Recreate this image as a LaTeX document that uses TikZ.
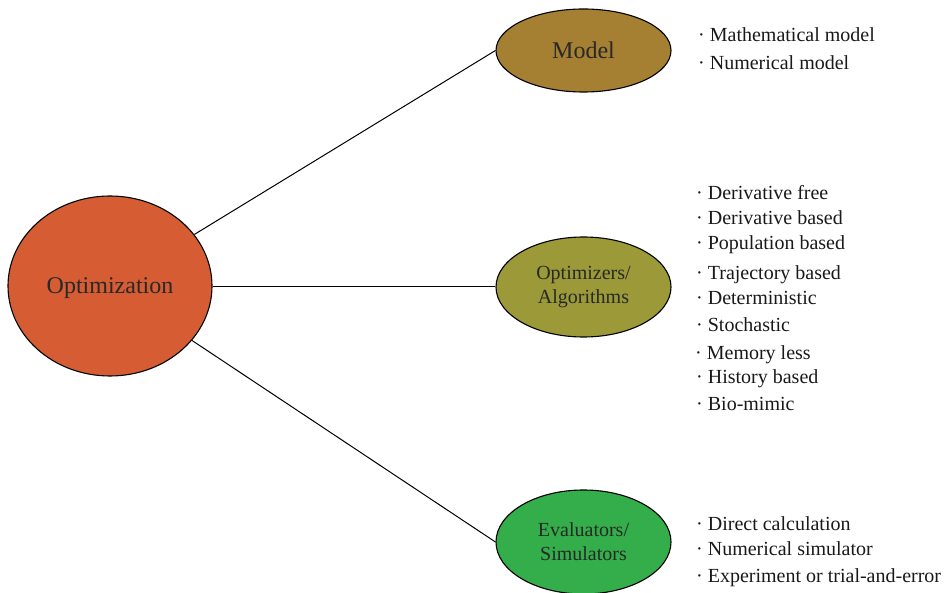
\documentclass[tikz,border=0pt]{standalone}
\usepackage{fontspec}
\setmainfont{Liberation Serif}
\usetikzlibrary{shapes.geometric}
\definecolor{cOpt}{RGB}{214,93,51}
\definecolor{cModel}{RGB}{166,128,50}
\definecolor{cAlg}{RGB}{156,153,56}
\definecolor{cEval}{RGB}{51,174,74}
\definecolor{cText}{RGB}{40,40,40}
\definecolor{cList}{RGB}{25,25,25}
\tikzset{
  bubble/.style={ellipse, draw=black, line width=1.1pt, inner sep=0pt, text=cText, align=center},
  bigfont/.style={font=\fontsize{24}{28}\selectfont},
  midfont/.style={font=\fontsize{20}{24}\selectfont},
  item/.style={anchor=base west, inner sep=0pt, text=cList, font=\fontsize{20}{24}\selectfont},
  link/.style={draw=black, line width=1pt}
}
\begin{document}
\begin{tikzpicture}[x=1pt,y=-1pt]
\useasboundingbox (0,0) rectangle (948,593);
\node[bubble, bigfont, fill=cOpt, minimum width=204pt, minimum height=180pt, text depth=0pt] (opt) at (110,286) {Optimization};
\node[bubble, bigfont, fill=cModel, minimum width=175pt, minimum height=83pt] (model) at (583.5,50.5) {Model};
\node[bubble, midfont, fill=cAlg, minimum width=175pt, minimum height=100pt] (alg) at (583.5,287) {Optimizers/\\Algorithms};
\node[bubble, midfont, fill=cEval, minimum width=175pt, minimum height=104pt] (eval) at (583.5,542) {Evaluators/\\Simulators};
\draw[link] (opt) -- (model.west);
\draw[link] (opt.east |- alg.west) -- (alg.west);
\draw[link] (opt) -- (eval.west);
% model list
\node[item] (m1) at (698,42) {· Mathematical model};
\node[item] (m2) at (698,70) {· Numerical model};
% algorithm list
\node[item] (a1) at (696,200) {· Derivative free};
\node[item] (a2) at (696,225) {· Derivative based};
\node[item] (a3) at (696,250) {· Population based};
\node[item] (a4) at (696,280) {· Trajectory based};
\node[item] (a5) at (696,305) {· Deterministic};
\node[item] (a6) at (696,332) {· Stochastic};
\node[item] (a7) at (695,360) {· Memory less};
\node[item] (a8) at (696,384) {· History based};
\node[item] (a9) at (696,410) {· Bio-mimic};
% evaluator list
\node[item] (e1) at (696,530) {· Direct calculation};
\node[item] (e2) at (696,555) {· Numerical simulator};
\node[item] (e3) at (696,582) {· Experiment or trial-and-error};
\end{tikzpicture}
\end{document}
